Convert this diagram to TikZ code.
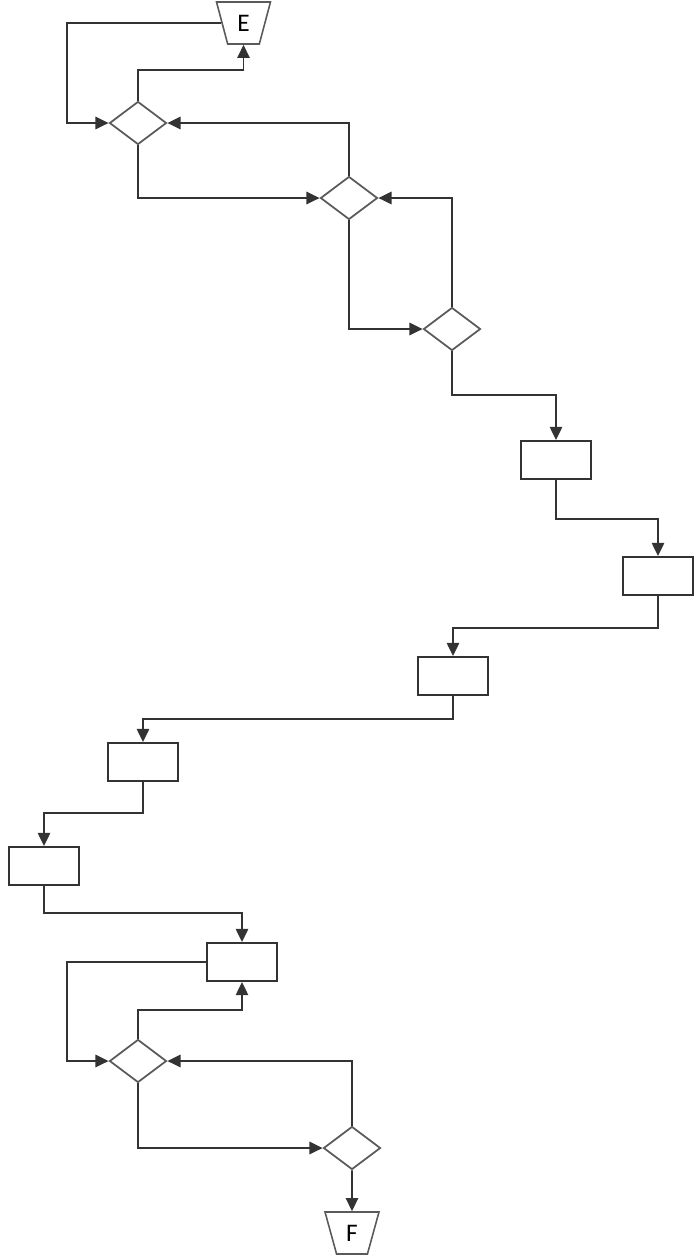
\documentclass[tikz,border=0pt]{standalone}
\usepackage{tikz}
\usepackage{xcolor}
\usepackage{fontspec}
\setmainfont{Carlito}
\usetikzlibrary{arrows.meta,shapes.geometric,calc}
\definecolor{flowLine}{HTML}{333333}
\definecolor{flowEdge}{HTML}{5A5A5A}

\tikzset{
  decisionNode/.style={draw=flowEdge,line width=1pt,diamond,inner sep=0pt,
                       minimum width=1.14cm,minimum height=0.86cm},
  processBox/.style={draw=flowLine,line width=1.1pt,rectangle,inner sep=0pt,
                     minimum width=1.4cm,minimum height=0.76cm},
  terminalNode/.style={draw=flowEdge,line width=0.9pt,trapezium,trapezium angle=75,
                       trapezium stretches=true,shape border rotate=180,inner sep=0pt,
                       minimum width=1.08cm,minimum height=0.84cm},
  flowArrow/.style={draw=flowLine,line width=1.1pt,
                    -{Triangle[length=7.5pt,width=7pt]}}
}

\begin{document}
\begin{tikzpicture}[x=0.02cm,y=-0.02cm,font=\Large]
    \useasboundingbox (0,0) rectangle (699,1259);

    % upper loop
    \node[terminalNode] (exitE) at (243.5,23) {E};
    \node[decisionNode] (testA) at (138,123) {};
    \node[decisionNode] (testB) at (349,198) {};
    \node[decisionNode] (testC) at (452,329) {};

    % chain of steps
    \node[processBox] (stepA) at (556,460) {};
    \node[processBox] (stepB) at (658,576) {};
    \node[processBox] (stepC) at (453,676) {};
    \node[processBox] (stepD) at (143,762) {};
    \node[processBox] (stepE) at (44,866) {};
    \node[processBox] (stepF) at (242,962) {};

    % lower loop
    \node[decisionNode] (testD) at (138,1061) {};
    \node[decisionNode] (testE) at (352,1148) {};
    \node[terminalNode] (exitF) at (352,1233) {F};

    \draw[flowArrow] (exitE.west) -| ($(testA.west)+(-42,0)$) -- (testA.west);
    \draw[flowArrow] (testA.north) -- ++(0,-31) -| (exitE.south);
    \draw[flowArrow] (testA.south) |- (testB.west);
    \draw[flowArrow] (testB.north) |- (testA.east);
    \draw[flowArrow] (testB.south) |- (testC.west);
    \draw[flowArrow] (testC.north) |- (testB.east);
    \draw[flowArrow] (testC.south) -- ++(0,44) -| (stepA.north);
    \draw[flowArrow] (stepA.south) -- ++(0,39) -| (stepB.north);
    \draw[flowArrow] (stepB.south) -- ++(0,32) -| (stepC.north);
    \draw[flowArrow] (stepC.south) -- ++(0,23) -| (stepD.north);
    \draw[flowArrow] (stepD.south) -- ++(0,31) -| (stepE.north);
    \draw[flowArrow] (stepE.south) -- ++(0,27) -| (stepF.north);
    \draw[flowArrow] (stepF.west) -| ($(testD.west)+(-42,0)$) -- (testD.west);
    \draw[flowArrow] (testD.north) -- ++(0,-29) -| (stepF.south);
    \draw[flowArrow] (testD.south) |- (testE.west);
    \draw[flowArrow] (testE.north) |- (testD.east);
    \draw[flowArrow] (testE.south) -- (exitF.north);
  \end{tikzpicture}
\end{document}
